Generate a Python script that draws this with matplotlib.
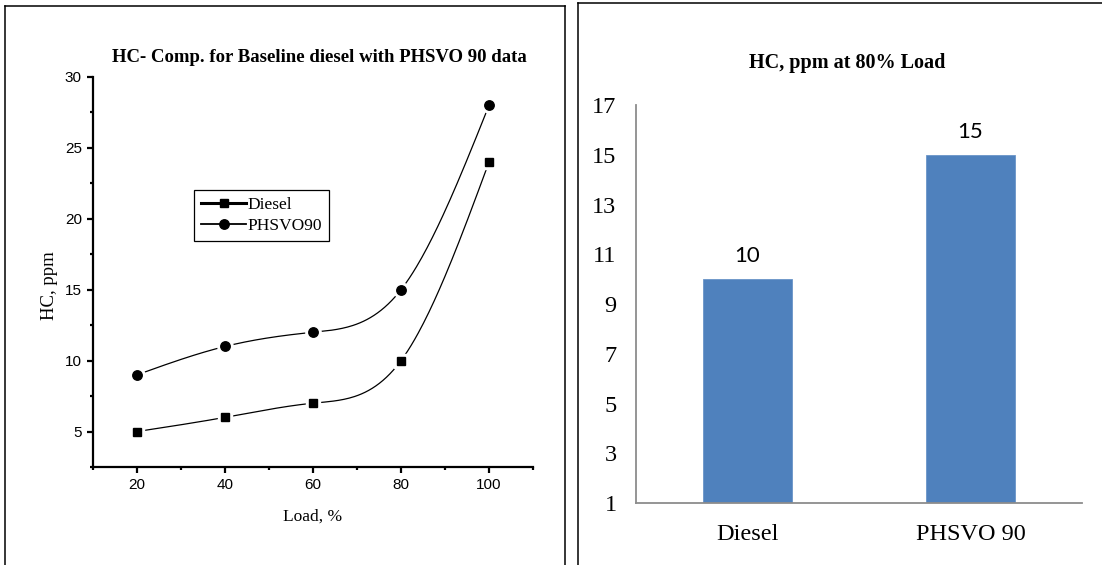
import numpy as np
import matplotlib
matplotlib.use("Agg")
import matplotlib.pyplot as plt
from matplotlib.lines import Line2D
from matplotlib.ticker import MultipleLocator

# ---------------- data ----------------
load = [20, 40, 60, 80, 100]
diesel_hc = [5, 6, 7, 10, 24]
phsvo_hc = [9, 11, 12, 15, 28]

bar_categories = ["Diesel", "PHSVO 90"]
bar_values = [10, 15]
bar_yticks = [1, 3, 5, 7, 9, 11, 13, 15, 17]

W, H = 1102, 565
fig = plt.figure(figsize=(W / 100, H / 100), dpi=100)

SERIF = ["Liberation Serif", "DejaVu Serif"]
SANS = ["Liberation Sans", "DejaVu Sans"]


def fx(px):
    return px / W


def fy(py):
    return 1 - py / H


def smooth(x, y, n=200):
    """Natural cubic spline used only to draw the connecting line."""
    x = np.asarray(x, float)
    y = np.asarray(y, float)
    m = len(x)
    h = np.diff(x)
    A = np.zeros((m, m))
    b = np.zeros(m)
    A[0, 0] = A[-1, -1] = 1
    for i in range(1, m - 1):
        A[i, i - 1] = h[i - 1]
        A[i, i] = 2 * (h[i - 1] + h[i])
        A[i, i + 1] = h[i]
        b[i] = 6 * ((y[i + 1] - y[i]) / h[i] - (y[i] - y[i - 1]) / h[i - 1])
    M = np.linalg.solve(A, b)
    xs = np.linspace(x[0], x[-1], n)
    ys = np.empty_like(xs)
    for k, xv in enumerate(xs):
        i = min(np.searchsorted(x, xv, side="right") - 1, m - 2)
        t1 = x[i + 1] - xv
        t0 = xv - x[i]
        ys[k] = (M[i] * t1 ** 3 / (6 * h[i]) + M[i + 1] * t0 ** 3 / (6 * h[i])
                 + (y[i] / h[i] - M[i] * h[i] / 6) * t1
                 + (y[i + 1] / h[i] - M[i + 1] * h[i] / 6) * t0)
    return xs, ys


# ---------------- panel borders ----------------
bw = 1.1
fig.add_artist(Line2D([fx(5), fx(5)], [fy(6), 0], transform=fig.transFigure, color="black", lw=bw))
fig.add_artist(Line2D([fx(5), fx(565)], [fy(6), fy(6)], transform=fig.transFigure, color="black", lw=bw))
fig.add_artist(Line2D([fx(565), fx(565)], [fy(6), 0], transform=fig.transFigure, color="black", lw=bw))
fig.add_artist(Line2D([fx(578), fx(578)], [fy(3), 0], transform=fig.transFigure, color="black", lw=bw))
fig.add_artist(Line2D([fx(578), 1], [fy(3), fy(3)], transform=fig.transFigure, color="black", lw=bw))

# ---------------- left: line chart ----------------
ax1 = fig.add_axes([fx(93), fy(467), fx(533) - fx(93), fy(77) - fy(467)])
for sp in ["top", "right"]:
    ax1.spines[sp].set_visible(False)
for sp in ["left", "bottom"]:
    ax1.spines[sp].set_linewidth(1.6)

xs, ys = smooth(load, diesel_hc)
ax1.plot(xs, ys, color="black", lw=0.9, zorder=2)
xs, ys = smooth(load, phsvo_hc)
ax1.plot(xs, ys, color="black", lw=0.9, zorder=2)
# white halos give Origin-style gaps around markers
ax1.plot(load, diesel_hc, ls="none", marker="s", ms=10.5, color="white", zorder=3)
ax1.plot(load, phsvo_hc, ls="none", marker="o", ms=11, color="white", zorder=3)
ax1.plot(load, diesel_hc, ls="none", marker="s", ms=6.3, color="black", zorder=4)
ax1.plot(load, phsvo_hc, ls="none", marker="o", ms=6.8, color="black", zorder=4)

ax1.set_xlim(10, 110)
ax1.set_ylim(2.5, 30)
ax1.xaxis.set_major_locator(MultipleLocator(20))
ax1.xaxis.set_minor_locator(MultipleLocator(10))
ax1.yaxis.set_major_locator(MultipleLocator(5))
ax1.yaxis.set_minor_locator(MultipleLocator(2.5))
ax1.tick_params(which="major", direction="out", length=4, width=1.6, labelsize=11, pad=4)
ax1.tick_params(which="minor", direction="out", length=2.5, width=1.6)
for lab in ax1.get_xticklabels() + ax1.get_yticklabels():
    lab.set_fontfamily(SANS)

handles = [
    Line2D([], [], color="black", lw=2.2, marker="s", ms=6.3),
    Line2D([], [], color="black", lw=1.3, marker="o", ms=6.8),
]
leg = fig.legend(handles, ["Diesel", "PHSVO90"], loc="upper left",
                 bbox_to_anchor=(fx(194), fy(190)), frameon=True, fancybox=False,
                 edgecolor="black", framealpha=1, prop={"family": SERIF, "size": 12.5},
                 handlelength=2.6, handletextpad=0.1, borderpad=0.4, labelspacing=0.3,
                 borderaxespad=0)
leg.get_frame().set_linewidth(0.9)

fig.text(fx(319), fy(57), "HC- Comp. for Baseline diesel with PHSVO 90 data",
         ha="center", va="center", fontsize=13.5, fontweight="bold", family=SERIF)
fig.text(fx(50), fy(286), "HC, ppm", ha="center", va="center", rotation=90,
         fontsize=13.5, family=SERIF)
fig.text(fx(313), fy(517), "Load, %", ha="center", va="center", fontsize=12.5, family=SERIF)

# ---------------- right: bar chart ----------------
ax2 = fig.add_axes([fx(636), fy(503), fx(1082) - fx(636), fy(105) - fy(503)])
for sp in ["top", "right"]:
    ax2.spines[sp].set_visible(False)
for sp in ["left", "bottom"]:
    ax2.spines[sp].set_color("#8c8c8c")
    ax2.spines[sp].set_linewidth(1.3)

pos = np.arange(len(bar_categories))
bars = ax2.bar(pos, np.array(bar_values) - 1, bottom=1, width=0.4,
               color="#4f81bd", edgecolor="#6a95c8", linewidth=0.6, zorder=2)
ax2.set_xlim(-0.5, 1.5)
ax2.set_ylim(1, 17)
ax2.set_yticks(bar_yticks)
ax2.set_xticks(pos)
ax2.set_xticklabels(bar_categories)
ax2.tick_params(length=0, labelsize=17.5)
ax2.tick_params(axis="y", pad=14)
ax2.tick_params(axis="x", pad=15)
for lab in ax2.get_xticklabels() + ax2.get_yticklabels():
    lab.set_fontfamily(SERIF)
for p, v in zip(pos, bar_values):
    ax2.annotate(str(v), (p, v), xytext=(0, 9.5), textcoords="offset points",
                 ha="center", va="bottom", fontsize=16, family=["Lato", "DejaVu Sans"])

fig.text(fx(847), fy(63), "HC, ppm at 80% Load", ha="center", va="center",
         fontsize=14.5, fontweight="bold", family=SERIF)

fig.savefig("out.png", dpi=100)
